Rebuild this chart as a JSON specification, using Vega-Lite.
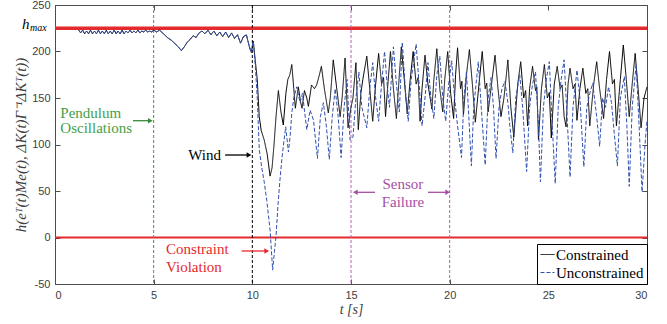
{
 "$schema": "https://vega.github.io/schema/vega-lite/v6.json",
 "width": 592, "height": 279, "autosize": "none",
 "padding": {"left": 55, "top": 5, "right": 20, "bottom": 40},
 "background": "white",
 "config": {
  "view": {"stroke": null},
  "axis": {"domainColor": "#4d4d4d", "tickColor": "#4d4d4d", "tickSize": -5, "grid": false, "labelFont": "Liberation Sans", "labelFontSize": 11, "labelColor": "#404040", "labelPadding": 10, "titleFont": "Liberation Serif", "titleFontSize": 14, "titleFontStyle": "italic", "titleFontWeight": "normal", "titleColor": "#404040"},
  "legend": {"orient": "bottom-right", "offset": 0, "padding": 3, "fillColor": "white", "strokeColor": "#000000", "labelFont": "Liberation Serif", "labelFontSize": 15, "labelColor": "#000000", "symbolType": "stroke", "symbolSize": 196, "symbolStrokeWidth": 1, "rowPadding": 2, "labelOffset": 1}
 },
 "datasets": {
  "series": [
   {"s":"C","t":1.2,"v":223},{"s":"C","t":1.3,"v":220},{"s":"C","t":1.4,"v":223},{"s":"C","t":1.5,"v":219},{"s":"C","t":1.6,"v":222},{"s":"C","t":1.7,"v":219},{"s":"C","t":1.8,"v":223},{"s":"C","t":1.9,"v":219},{"s":"C","t":2.0,"v":222},{"s":"C","t":2.1,"v":219},{"s":"C","t":2.2,"v":223},{"s":"C","t":2.3,"v":219},{"s":"C","t":2.4,"v":222},{"s":"C","t":2.5,"v":219},{"s":"C","t":2.6,"v":223},{"s":"C","t":2.7,"v":219},{"s":"C","t":2.8,"v":222},{"s":"C","t":2.9,"v":219},{"s":"C","t":3.0,"v":223},{"s":"C","t":3.1,"v":219},{"s":"C","t":3.2,"v":222},{"s":"C","t":3.3,"v":219},{"s":"C","t":3.4,"v":223},{"s":"C","t":3.5,"v":219},{"s":"C","t":3.6,"v":222},{"s":"C","t":3.7,"v":220},{"s":"C","t":3.8,"v":223},{"s":"C","t":3.9,"v":220},{"s":"C","t":4.0,"v":222},{"s":"C","t":4.1,"v":220},{"s":"C","t":4.2,"v":223},{"s":"C","t":4.3,"v":220},{"s":"C","t":4.4,"v":222},{"s":"C","t":4.5,"v":221},{"s":"C","t":4.6,"v":223},{"s":"C","t":4.7,"v":221},{"s":"C","t":4.8,"v":222},{"s":"C","t":4.9,"v":221},{"s":"C","t":5.0,"v":223},{"s":"C","t":5.15,"v":221},{"s":"C","t":5.3,"v":223},{"s":"C","t":5.5,"v":219},{"s":"C","t":5.7,"v":215},{"s":"C","t":5.9,"v":212},{"s":"C","t":6.1,"v":208},{"s":"C","t":6.25,"v":205},{"s":"C","t":6.4,"v":201},{"s":"C","t":6.55,"v":205},{"s":"C","t":6.7,"v":210},{"s":"C","t":6.85,"v":213},{"s":"C","t":7.0,"v":217},{"s":"C","t":7.15,"v":215},{"s":"C","t":7.3,"v":220},{"s":"C","t":7.45,"v":222},{"s":"C","t":7.6,"v":219},{"s":"C","t":7.75,"v":223},{"s":"C","t":7.9,"v":218},{"s":"C","t":8.05,"v":222},{"s":"C","t":8.2,"v":217},{"s":"C","t":8.35,"v":221},{"s":"C","t":8.5,"v":216},{"s":"C","t":8.65,"v":221},{"s":"C","t":8.8,"v":215},{"s":"C","t":8.95,"v":220},{"s":"C","t":9.1,"v":214},{"s":"C","t":9.25,"v":218},{"s":"C","t":9.4,"v":209},{"s":"C","t":9.55,"v":216},{"s":"C","t":9.7,"v":218},{"s":"C","t":9.85,"v":205},{"s":"C","t":9.95,"v":199},
   {"s":"C","t":10.05,"v":211},{"s":"C","t":10.15,"v":190},{"s":"C","t":10.25,"v":170},{"s":"C","t":10.35,"v":130},{"s":"C","t":10.45,"v":115},{"s":"C","t":10.6,"v":105},{"s":"C","t":10.75,"v":90},{"s":"C","t":10.9,"v":66},{"s":"C","t":11.0,"v":75},{"s":"C","t":11.1,"v":100},{"s":"C","t":11.2,"v":130},{"s":"C","t":11.32,"v":158},{"s":"C","t":11.45,"v":135},{"s":"C","t":11.57,"v":121},{"s":"C","t":11.7,"v":155},{"s":"C","t":11.8,"v":170},{"s":"C","t":11.9,"v":175},{"s":"C","t":12.0,"v":186},{"s":"C","t":12.1,"v":160},{"s":"C","t":12.18,"v":139},{"s":"C","t":12.33,"v":162},{"s":"C","t":12.45,"v":145},{"s":"C","t":12.52,"v":139},{"s":"C","t":12.64,"v":158},{"s":"C","t":12.76,"v":150},{"s":"C","t":12.84,"v":141},{"s":"C","t":13.0,"v":164},{"s":"C","t":13.15,"v":160},{"s":"C","t":13.26,"v":164},{"s":"C","t":13.4,"v":175},{"s":"C","t":13.5,"v":184},{"s":"C","t":13.65,"v":160},{"s":"C","t":13.85,"v":134},{"s":"C","t":13.95,"v":150},{"s":"C","t":14.1,"v":191},{"s":"C","t":14.25,"v":165},{"s":"C","t":14.45,"v":130},{"s":"C","t":14.55,"v":150},{"s":"C","t":14.7,"v":193},{"s":"C","t":14.85,"v":118},{"s":"C","t":15.0,"v":140},{"s":"C","t":15.1,"v":150},{"s":"C","t":15.25,"v":188},{"s":"C","t":15.37,"v":116},{"s":"C","t":15.5,"v":155},{"s":"C","t":15.6,"v":170},{"s":"C","t":15.8,"v":195},{"s":"C","t":15.95,"v":160},{"s":"C","t":16.1,"v":125},{"s":"C","t":16.25,"v":165},{"s":"C","t":16.4,"v":198},{"s":"C","t":16.55,"v":165},{"s":"C","t":16.65,"v":172},{"s":"C","t":16.75,"v":130},{"s":"C","t":16.85,"v":160},{"s":"C","t":17.0,"v":200},{"s":"C","t":17.15,"v":160},{"s":"C","t":17.3,"v":128},{"s":"C","t":17.45,"v":175},{"s":"C","t":17.55,"v":205},{"s":"C","t":17.7,"v":170},{"s":"C","t":17.85,"v":133},{"s":"C","t":18.0,"v":170},{"s":"C","t":18.15,"v":200},{"s":"C","t":18.3,"v":165},{"s":"C","t":18.4,"v":172},{"s":"C","t":18.5,"v":125},{"s":"C","t":18.6,"v":160},{"s":"C","t":18.75,"v":196},{"s":"C","t":18.9,"v":165},{"s":"C","t":19.1,"v":138},{"s":"C","t":19.2,"v":170},{"s":"C","t":19.35,"v":203},{"s":"C","t":19.5,"v":160},{"s":"C","t":19.65,"v":135},{"s":"C","t":19.75,"v":170},{"s":"C","t":19.9,"v":200},{"s":"C","t":20.05,"v":155},{"s":"C","t":20.2,"v":128},{"s":"C","t":20.3,"v":175},{"s":"C","t":20.4,"v":204},{"s":"C","t":20.55,"v":160},{"s":"C","t":20.62,"v":168},{"s":"C","t":20.7,"v":132},{"s":"C","t":20.85,"v":175},{"s":"C","t":21.0,"v":202},{"s":"C","t":21.15,"v":165},{"s":"C","t":21.3,"v":124},{"s":"C","t":21.5,"v":168},{"s":"C","t":21.65,"v":200},{"s":"C","t":21.8,"v":160},{"s":"C","t":21.88,"v":166},{"s":"C","t":21.95,"v":135},{"s":"C","t":22.15,"v":170},{"s":"C","t":22.3,"v":196},{"s":"C","t":22.45,"v":160},{"s":"C","t":22.6,"v":130},{"s":"C","t":22.75,"v":150},{"s":"C","t":22.85,"v":170},{"s":"C","t":22.95,"v":191},{"s":"C","t":23.1,"v":140},{"s":"C","t":23.25,"v":108},{"s":"C","t":23.45,"v":165},{"s":"C","t":23.6,"v":189},{"s":"C","t":23.75,"v":150},{"s":"C","t":23.85,"v":158},{"s":"C","t":23.95,"v":120},{"s":"C","t":24.05,"v":160},{"s":"C","t":24.2,"v":184},{"s":"C","t":24.35,"v":158},{"s":"C","t":24.42,"v":162},{"s":"C","t":24.5,"v":105},{"s":"C","t":24.65,"v":160},{"s":"C","t":24.8,"v":186},{"s":"C","t":24.95,"v":150},{"s":"C","t":25.05,"v":156},{"s":"C","t":25.15,"v":107},{"s":"C","t":25.3,"v":165},{"s":"C","t":25.45,"v":184},{"s":"C","t":25.6,"v":160},{"s":"C","t":25.7,"v":164},{"s":"C","t":25.8,"v":130},{"s":"C","t":25.9,"v":119},{"s":"C","t":26.0,"v":165},{"s":"C","t":26.1,"v":182},{"s":"C","t":26.25,"v":160},{"s":"C","t":26.35,"v":165},{"s":"C","t":26.45,"v":126},{"s":"C","t":26.6,"v":160},{"s":"C","t":26.75,"v":182},{"s":"C","t":26.9,"v":155},{"s":"C","t":27.0,"v":160},{"s":"C","t":27.1,"v":120},{"s":"C","t":27.3,"v":165},{"s":"C","t":27.45,"v":189},{"s":"C","t":27.6,"v":160},{"s":"C","t":27.8,"v":128},{"s":"C","t":27.95,"v":170},{"s":"C","t":28.1,"v":200},{"s":"C","t":28.25,"v":165},{"s":"C","t":28.35,"v":170},{"s":"C","t":28.45,"v":120},{"s":"C","t":28.65,"v":170},{"s":"C","t":28.8,"v":207},{"s":"C","t":28.95,"v":170},{"s":"C","t":29.1,"v":130},{"s":"C","t":29.25,"v":165},{"s":"C","t":29.4,"v":198},{"s":"C","t":29.55,"v":160},{"s":"C","t":29.7,"v":118},{"s":"C","t":29.85,"v":150},{"s":"C","t":30.0,"v":162},
   {"s":"U","t":1.2,"v":223},{"s":"U","t":1.3,"v":220},{"s":"U","t":1.4,"v":223},{"s":"U","t":1.5,"v":219},{"s":"U","t":1.6,"v":222},{"s":"U","t":1.7,"v":219},{"s":"U","t":1.8,"v":223},{"s":"U","t":1.9,"v":219},{"s":"U","t":2.0,"v":222},{"s":"U","t":2.1,"v":219},{"s":"U","t":2.2,"v":223},{"s":"U","t":2.3,"v":219},{"s":"U","t":2.4,"v":222},{"s":"U","t":2.5,"v":219},{"s":"U","t":2.6,"v":223},{"s":"U","t":2.7,"v":219},{"s":"U","t":2.8,"v":222},{"s":"U","t":2.9,"v":219},{"s":"U","t":3.0,"v":223},{"s":"U","t":3.1,"v":219},{"s":"U","t":3.2,"v":222},{"s":"U","t":3.3,"v":219},{"s":"U","t":3.4,"v":223},{"s":"U","t":3.5,"v":219},{"s":"U","t":3.6,"v":222},{"s":"U","t":3.7,"v":220},{"s":"U","t":3.8,"v":223},{"s":"U","t":3.9,"v":220},{"s":"U","t":4.0,"v":222},{"s":"U","t":4.1,"v":220},{"s":"U","t":4.2,"v":223},{"s":"U","t":4.3,"v":220},{"s":"U","t":4.4,"v":222},{"s":"U","t":4.5,"v":221},{"s":"U","t":4.6,"v":223},{"s":"U","t":4.7,"v":221},{"s":"U","t":4.8,"v":222},{"s":"U","t":4.9,"v":221},{"s":"U","t":5.0,"v":223},{"s":"U","t":5.15,"v":221},{"s":"U","t":5.3,"v":223},{"s":"U","t":5.5,"v":219},{"s":"U","t":5.7,"v":215},{"s":"U","t":5.9,"v":212},{"s":"U","t":6.1,"v":208},{"s":"U","t":6.25,"v":205},{"s":"U","t":6.4,"v":201},{"s":"U","t":6.55,"v":205},{"s":"U","t":6.7,"v":210},{"s":"U","t":6.85,"v":213},{"s":"U","t":7.0,"v":217},{"s":"U","t":7.15,"v":215},{"s":"U","t":7.3,"v":220},{"s":"U","t":7.45,"v":222},{"s":"U","t":7.6,"v":219},{"s":"U","t":7.75,"v":223},{"s":"U","t":7.9,"v":218},{"s":"U","t":8.05,"v":222},{"s":"U","t":8.2,"v":217},{"s":"U","t":8.35,"v":221},{"s":"U","t":8.5,"v":216},{"s":"U","t":8.65,"v":221},{"s":"U","t":8.8,"v":215},{"s":"U","t":8.95,"v":220},{"s":"U","t":9.1,"v":214},{"s":"U","t":9.25,"v":218},{"s":"U","t":9.4,"v":209},{"s":"U","t":9.55,"v":216},{"s":"U","t":9.7,"v":218},{"s":"U","t":9.85,"v":205},{"s":"U","t":9.95,"v":199},
   {"s":"U","t":10.05,"v":211},{"s":"U","t":10.15,"v":185},{"s":"U","t":10.25,"v":150},{"s":"U","t":10.35,"v":95},{"s":"U","t":10.47,"v":76},{"s":"U","t":10.6,"v":60},{"s":"U","t":10.73,"v":40},{"s":"U","t":10.9,"v":8},{"s":"U","t":11.03,"v":-35},{"s":"U","t":11.12,"v":-15},{"s":"U","t":11.2,"v":1},{"s":"U","t":11.3,"v":35},{"s":"U","t":11.4,"v":62},{"s":"U","t":11.5,"v":85},{"s":"U","t":11.57,"v":98},{"s":"U","t":11.69,"v":119},{"s":"U","t":11.83,"v":92},{"s":"U","t":11.92,"v":110},{"s":"U","t":12.0,"v":134},{"s":"U","t":12.1,"v":150},{"s":"U","t":12.25,"v":162},{"s":"U","t":12.42,"v":145},{"s":"U","t":12.54,"v":155},{"s":"U","t":12.65,"v":135},{"s":"U","t":12.76,"v":116},{"s":"U","t":12.93,"v":137},{"s":"U","t":13.1,"v":126},{"s":"U","t":13.2,"v":105},{"s":"U","t":13.3,"v":85},{"s":"U","t":13.45,"v":130},{"s":"U","t":13.6,"v":145},{"s":"U","t":13.75,"v":120},{"s":"U","t":13.9,"v":84},{"s":"U","t":14.05,"v":130},{"s":"U","t":14.2,"v":160},{"s":"U","t":14.35,"v":130},{"s":"U","t":14.5,"v":86},{"s":"U","t":14.65,"v":140},{"s":"U","t":14.8,"v":170},{"s":"U","t":14.95,"v":105},{"s":"U","t":15.1,"v":108},{"s":"U","t":15.25,"v":150},{"s":"U","t":15.4,"v":178},{"s":"U","t":15.55,"v":140},{"s":"U","t":15.8,"v":118},{"s":"U","t":15.95,"v":160},{"s":"U","t":16.1,"v":188},{"s":"U","t":16.25,"v":150},{"s":"U","t":16.4,"v":125},{"s":"U","t":16.55,"v":165},{"s":"U","t":16.7,"v":200},{"s":"U","t":16.85,"v":160},{"s":"U","t":16.95,"v":140},{"s":"U","t":17.15,"v":205},{"s":"U","t":17.3,"v":165},{"s":"U","t":17.45,"v":135},{"s":"U","t":17.6,"v":210},{"s":"U","t":17.75,"v":160},{"s":"U","t":17.9,"v":125},{"s":"U","t":18.05,"v":170},{"s":"U","t":18.3,"v":208},{"s":"U","t":18.45,"v":165},{"s":"U","t":18.6,"v":120},{"s":"U","t":18.75,"v":150},{"s":"U","t":18.9,"v":188},{"s":"U","t":19.05,"v":150},{"s":"U","t":19.2,"v":128},{"s":"U","t":19.35,"v":175},{"s":"U","t":19.5,"v":195},{"s":"U","t":19.65,"v":150},{"s":"U","t":19.8,"v":125},{"s":"U","t":19.95,"v":165},{"s":"U","t":20.1,"v":190},{"s":"U","t":20.25,"v":150},{"s":"U","t":20.4,"v":120},{"s":"U","t":20.6,"v":86},{"s":"U","t":20.72,"v":150},{"s":"U","t":20.85,"v":178},{"s":"U","t":20.97,"v":130},{"s":"U","t":21.1,"v":77},{"s":"U","t":21.22,"v":140},{"s":"U","t":21.45,"v":189},{"s":"U","t":21.6,"v":140},{"s":"U","t":21.8,"v":78},{"s":"U","t":21.95,"v":150},{"s":"U","t":22.1,"v":172},{"s":"U","t":22.22,"v":140},{"s":"U","t":22.35,"v":85},{"s":"U","t":22.5,"v":140},{"s":"U","t":22.65,"v":160},{"s":"U","t":22.8,"v":168},{"s":"U","t":22.95,"v":145},{"s":"U","t":23.05,"v":120},{"s":"U","t":23.2,"v":91},{"s":"U","t":23.35,"v":150},{"s":"U","t":23.55,"v":175},{"s":"U","t":23.7,"v":140},{"s":"U","t":23.9,"v":71},{"s":"U","t":24.05,"v":140},{"s":"U","t":24.2,"v":165},{"s":"U","t":24.35,"v":178},{"s":"U","t":24.5,"v":120},{"s":"U","t":24.6,"v":60},{"s":"U","t":24.75,"v":140},{"s":"U","t":24.9,"v":170},{"s":"U","t":25.05,"v":189},{"s":"U","t":25.2,"v":120},{"s":"U","t":25.35,"v":58},{"s":"U","t":25.5,"v":140},{"s":"U","t":25.65,"v":170},{"s":"U","t":25.8,"v":191},{"s":"U","t":25.95,"v":130},{"s":"U","t":26.1,"v":65},{"s":"U","t":26.25,"v":140},{"s":"U","t":26.45,"v":180},{"s":"U","t":26.6,"v":150},{"s":"U","t":26.8,"v":76},{"s":"U","t":26.95,"v":140},{"s":"U","t":27.1,"v":155},{"s":"U","t":27.25,"v":166},{"s":"U","t":27.45,"v":130},{"s":"U","t":27.6,"v":98},{"s":"U","t":27.75,"v":150},{"s":"U","t":27.9,"v":140},{"s":"U","t":28.05,"v":162},{"s":"U","t":28.2,"v":145},{"s":"U","t":28.35,"v":110},{"s":"U","t":28.5,"v":77},{"s":"U","t":28.65,"v":150},{"s":"U","t":28.85,"v":173},{"s":"U","t":28.98,"v":120},{"s":"U","t":29.1,"v":55},{"s":"U","t":29.25,"v":140},{"s":"U","t":29.45,"v":186},{"s":"U","t":29.6,"v":120},{"s":"U","t":29.75,"v":49},{"s":"U","t":29.9,"v":100},{"s":"U","t":30.0,"v":126}
  ]
 },
 "resolve": {"axis": {"x": "independent", "y": "independent"}},
 "layer": [
  {"layer": [
   {"data": {"values": [{}]}, "mark": {"type": "rule", "color": "#e52a2e", "strokeWidth": 3.5},
    "encoding": {"y": {"datum": 225, "type": "quantitative"}}},
   {"data": {"values": [{}]}, "mark": {"type": "rule", "color": "#e52a2e", "strokeWidth": 2},
    "encoding": {"y": {"datum": 0, "type": "quantitative"}}},
   {"data": {"values": [{}]}, "mark": {"type": "rule", "color": "#3d9a3d", "strokeWidth": 1, "strokeDash": [3, 2]},
    "encoding": {"x": {"datum": 5, "type": "quantitative"}}},
   {"data": {"values": [{}]}, "mark": {"type": "rule", "color": "#000000", "strokeWidth": 1, "strokeDash": [3, 2]},
    "encoding": {"x": {"datum": 10, "type": "quantitative"}}},
   {"data": {"values": [{"t": 15}, {"t": 20}]}, "mark": {"type": "rule", "color": "#b060b0", "strokeWidth": 1, "strokeDash": [3, 2]},
    "encoding": {"x": {"field": "t", "type": "quantitative"}}},
   {"data": {"name": "series"},
    "mark": {"type": "line", "strokeWidth": 1},
    "encoding": {
     "x": {"field": "t", "type": "quantitative", "scale": {"domain": [0, 30], "nice": false},
           "axis": {"title": "t [s]", "values": [0, 5, 10, 15, 20, 25, 30], "titlePadding": 2}},
     "y": {"field": "v", "type": "quantitative", "scale": {"domain": [-50, 250], "nice": false},
           "axis": {"title": "h(eᵀ(t)Me(t), ΔK(t)Γ⁻¹ΔKᵀ(t))", "titleFontSize": 15, "values": [-50, 0, 50, 100, 150, 200, 250], "labelExpr": "'' + datum.value", "titlePadding": 3}},
     "color": {"field": "s", "type": "nominal", "scale": {"domain": ["C", "U"], "range": ["#000000", "#3050b0"]},
               "legend": {"title": null, "labelExpr": "datum.label == 'C' ? 'Constrained' : 'Unconstrained'"}},
     "strokeDash": {"field": "s", "type": "nominal", "scale": {"domain": ["C", "U"], "range": [[1, 0], [4, 2]]},
               "legend": {"title": null, "labelExpr": "datum.label == 'C' ? 'Constrained' : 'Unconstrained'"}},
     "order": {"field": "t", "type": "quantitative"}
    }},
   {"data": {"values": [{"t": 0.27, "v": 134, "txt": "Pendulum"}, {"t": 0.27, "v": 117.7, "txt": "Oscillations"}]},
    "mark": {"type": "text", "align": "left", "baseline": "middle", "font": "Liberation Serif", "fontSize": 15, "color": "#45a045"},
    "encoding": {"x": {"field": "t", "type": "quantitative"}, "y": {"field": "v", "type": "quantitative"}, "text": {"field": "txt"}}},
   {"data": {"values": [{"t": 3.95, "t2": 4.85, "v": 125.6}]},
    "mark": {"type": "rule", "color": "#3a8a3a", "strokeWidth": 1.3},
    "encoding": {"x": {"field": "t", "type": "quantitative"}, "x2": {"field": "t2"}, "y": {"field": "v", "type": "quantitative"}}},
   {"data": {"values": [{"t": 4.83, "v": 125.6}]},
    "mark": {"type": "point", "shape": "triangle-right", "filled": true, "size": 30, "color": "#3a8a3a", "opacity": 1},
    "encoding": {"x": {"field": "t", "type": "quantitative"}, "y": {"field": "v", "type": "quantitative"}}},
   {"data": {"values": [{"t": 8.41, "v": 88.7, "txt": "Wind"}]},
    "mark": {"type": "text", "align": "right", "baseline": "middle", "font": "Liberation Serif", "fontSize": 15, "color": "#000000"},
    "encoding": {"x": {"field": "t", "type": "quantitative"}, "y": {"field": "v", "type": "quantitative"}, "text": {"field": "txt"}}},
   {"data": {"values": [{"t": 8.62, "t2": 9.85, "v": 88.7}]},
    "mark": {"type": "rule", "color": "#000000", "strokeWidth": 1.3},
    "encoding": {"x": {"field": "t", "type": "quantitative"}, "x2": {"field": "t2"}, "y": {"field": "v", "type": "quantitative"}}},
   {"data": {"values": [{"t": 9.83, "v": 88.7}]},
    "mark": {"type": "point", "shape": "triangle-right", "filled": true, "size": 30, "color": "#000000", "opacity": 1},
    "encoding": {"x": {"field": "t", "type": "quantitative"}, "y": {"field": "v", "type": "quantitative"}}},
   {"data": {"values": [{"t": 5.63, "v": -12.3, "txt": "Constraint"}, {"t": 5.63, "v": -31.4, "txt": "Violation"}]},
    "mark": {"type": "text", "align": "left", "baseline": "middle", "font": "Liberation Serif", "fontSize": 15, "color": "#e8282c"},
    "encoding": {"x": {"field": "t", "type": "quantitative"}, "y": {"field": "v", "type": "quantitative"}, "text": {"field": "txt"}}},
   {"data": {"values": [{"t": 9.46, "t2": 10.75, "v": -14.5}]},
    "mark": {"type": "rule", "color": "#e8282c", "strokeWidth": 1.3},
    "encoding": {"x": {"field": "t", "type": "quantitative"}, "x2": {"field": "t2"}, "y": {"field": "v", "type": "quantitative"}}},
   {"data": {"values": [{"t": 10.73, "v": -14.5}]},
    "mark": {"type": "point", "shape": "triangle-right", "filled": true, "size": 30, "color": "#e8282c", "opacity": 1},
    "encoding": {"x": {"field": "t", "type": "quantitative"}, "y": {"field": "v", "type": "quantitative"}}},
   {"data": {"values": [{"t": 17.63, "v": 57.2, "txt": "Sensor"}, {"t": 17.63, "v": 38.5, "txt": "Failure"}]},
    "mark": {"type": "text", "align": "center", "baseline": "middle", "font": "Liberation Serif", "fontSize": 15, "color": "#a64fa6"},
    "encoding": {"x": {"field": "t", "type": "quantitative"}, "y": {"field": "v", "type": "quantitative"}, "text": {"field": "txt"}}},
   {"data": {"values": [{"t": 15.2, "t2": 16.22, "v": 48.6}, {"t": 18.9, "t2": 19.92, "v": 48.6}]},
    "mark": {"type": "rule", "color": "#a64fa6", "strokeWidth": 1.3},
    "encoding": {"x": {"field": "t", "type": "quantitative"}, "x2": {"field": "t2"}, "y": {"field": "v", "type": "quantitative"}}},
   {"data": {"values": [{"t": 15.22, "v": 48.6}]},
    "mark": {"type": "point", "shape": "triangle-left", "filled": true, "size": 30, "color": "#a64fa6", "opacity": 1},
    "encoding": {"x": {"field": "t", "type": "quantitative"}, "y": {"field": "v", "type": "quantitative"}}},
   {"data": {"values": [{"t": 19.9, "v": 48.6}]},
    "mark": {"type": "point", "shape": "triangle-right", "filled": true, "size": 30, "color": "#a64fa6", "opacity": 1},
    "encoding": {"x": {"field": "t", "type": "quantitative"}, "y": {"field": "v", "type": "quantitative"}}},
   {"data": {"values": [{"t": 0, "v": 225, "txt": "h"}]},
    "mark": {"type": "text", "align": "left", "baseline": "alphabetic", "dx": -33, "dy": 1, "font": "Liberation Serif", "fontStyle": "italic", "fontSize": 15, "color": "#000000"},
    "encoding": {"x": {"field": "t", "type": "quantitative"}, "y": {"field": "v", "type": "quantitative"}, "text": {"field": "txt"}}},
   {"data": {"values": [{"t": 0, "v": 225, "txt": "max"}]},
    "mark": {"type": "text", "align": "left", "baseline": "alphabetic", "dx": -25, "dy": 3, "font": "Liberation Serif", "fontStyle": "italic", "fontSize": 10, "color": "#000000"},
    "encoding": {"x": {"field": "t", "type": "quantitative"}, "y": {"field": "v", "type": "quantitative"}, "text": {"field": "txt"}}}
  ]},
  {"data": {"values": [{}]}, "mark": {"type": "point", "opacity": 0},
   "encoding": {
    "x": {"datum": 0, "type": "quantitative", "axis": {"orient": "top", "labels": false, "title": null, "values": [0, 5, 10, 15, 20, 25, 30]}},
    "y": {"datum": 0, "type": "quantitative", "axis": {"orient": "right", "labels": false, "title": null, "values": [-50, 0, 50, 100, 150, 200, 250]}}
   }}
 ]
}
